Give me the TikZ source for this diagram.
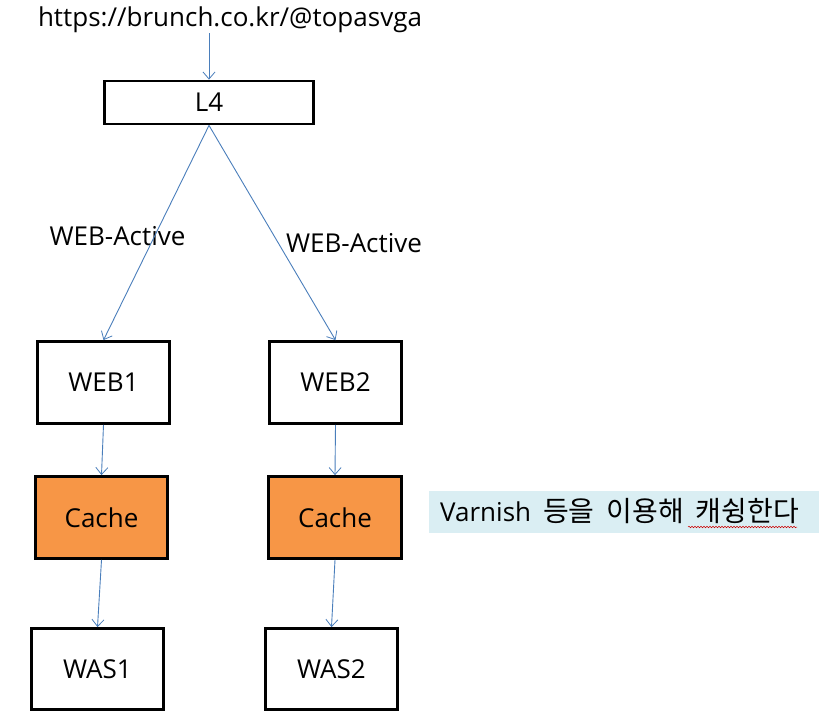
\documentclass[tikz,border=0pt]{standalone}
\usepackage{fontspec}
\setmainfont{Open Sans}
\newfontfamily\krfont{Noto Sans CJK KR}
\usetikzlibrary{arrows.meta,decorations.pathmorphing}
\definecolor{conn}{HTML}{4A7EBB}
\definecolor{cachefill}{HTML}{F79646}
\definecolor{notebg}{HTML}{DAEEF3}
\begin{document}
\begin{tikzpicture}[x=1pt,y=-1pt,
  box/.style={draw=black,line width=2.8pt,inner sep=0pt,font=\fontsize{26}{30}\selectfont},
  cachebox/.style={box,fill=cachefill},
  conn/.style={draw=conn,line width=0.9pt,-{Straight Barb[length=7pt,width=12pt,line width=0.8pt]}},
  lbl/.style={inner sep=0pt,font=\fontsize{26}{30}\selectfont}]
\useasboundingbox (0,0) rectangle (827,726);
\node[lbl] (url) at (230,20) {https://brunch.co.kr/@topasvga};
\node[box,minimum width=209,minimum height=43] (L4) at (209,102.5) {L4};
\node[box,minimum width=132,minimum height=82] (web1) at (103.5,382.5) {WEB1};
\node[box,minimum width=132,minimum height=82] (web2) at (335.5,382.5) {WEB2};
\node[cachebox,minimum width=132,minimum height=82] (cache1) at (101.5,517.5) {Cache};
\node[cachebox,minimum width=133,minimum height=82] (cache2) at (335,517.5) {Cache};
\node[box,minimum width=132,minimum height=81] (was1) at (97.5,669) {WAS1};
\node[box,minimum width=132,minimum height=81] (was2) at (331.5,669) {WAS2};
\node[lbl] (lblL) at (117.5,236) {WEB-Active};
\node[lbl] (lblR) at (354,243) {WEB-Active};
\node[fill=notebg,minimum width=390,minimum height=42,inner sep=0pt] (notebox) at (624,512) {};
\node[lbl,anchor=west] (note) at (440,511) {Varnish\hspace{12pt}{\krfont\fontsize{28}{30}\selectfont 등을\hspace{12pt}이용해\hspace{12pt}캐슁한다}};
\coordinate (ustart) at (url.south -| L4.north);
\draw[conn] (ustart) -- (L4.north);
\draw[conn] (L4.south) -- (web1.north);
\draw[conn] (L4.south) -- (web2.north);
\draw[conn] (web1.south) -- (cache1.north);
\draw[conn] (web2.south) -- (cache2.north);
\draw[conn] (cache1.south) -- (was1.north);
\draw[conn] (cache2.south) -- (was2.north);
\draw[red!80!black,line width=0.5pt,decorate,decoration={snake,amplitude=0.8pt,segment length=3pt}] (688,527) -- (797,527);
\end{tikzpicture}
\end{document}
